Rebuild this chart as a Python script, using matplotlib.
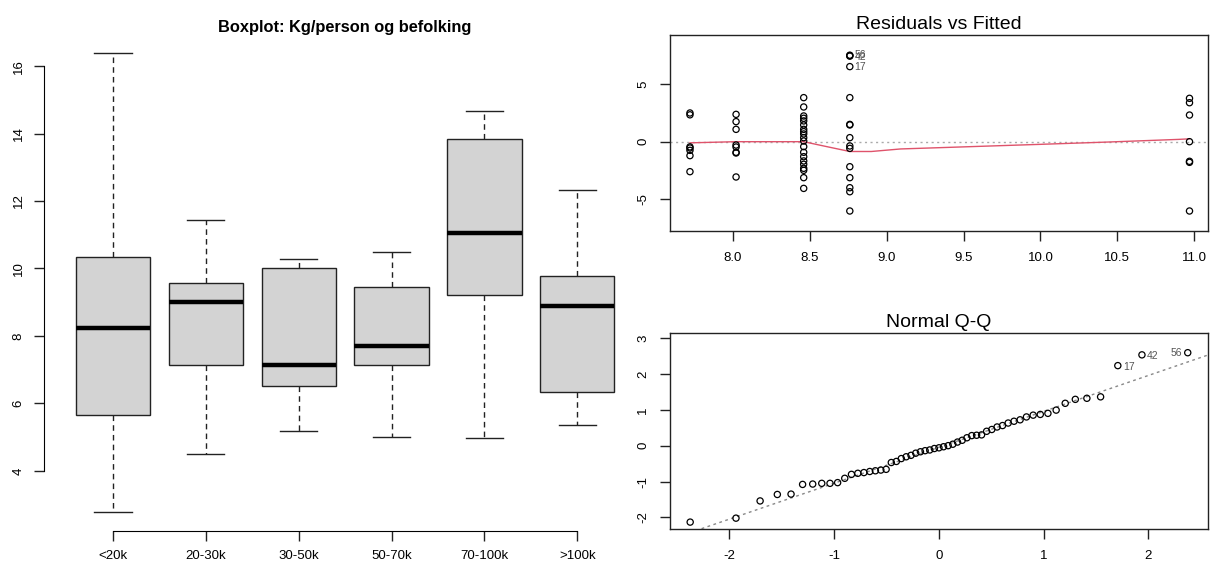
import matplotlib
matplotlib.use("Agg")
import matplotlib.pyplot as plt
import numpy as np
from statistics import NormalDist

plt.rcParams['font.family'] = ['Liberation Sans', 'DejaVu Sans']

# ---------------- data ----------------
groups = ["<20k", "20-30k", "30-50k", "50-70k", "70-100k", ">100k"]
whis_lo = [2.77, 4.51, 5.18, 4.99, 4.96, 5.37]
q1 = [5.66, 7.15, 6.52, 7.15, 9.20, 6.34]
medians = [8.24, 9.02, 7.15, 7.70, 11.06, 8.90]
q3 = [10.35, 9.56, 10.01, 9.45, 13.85, 9.79]
whis_hi = [16.38, 11.43, 10.28, 10.50, 14.66, 12.33]

fitted_levels = [7.72, 8.02, 8.46, 8.76, 10.97]
resid_g1 = [2.49, 2.33, -0.45, -0.55, -0.75, -1.21, -2.60]
resid_g2 = [2.37, 1.74, 1.07, -0.29, -0.46, -0.92, -0.98, -3.06]
resid_g3 = [3.82, 3.01, 2.23, 2.03, 1.80, 1.45, 1.07, 0.87, 0.67, 0.35,
            0.06, -0.43, -0.92, -1.30, -1.67, -1.96, -2.31, -2.48, -3.12, -4.05]
resid_g4 = [7.50, 7.46, 7.42, 6.51, 3.82, 1.50, 1.45, 0.35, -0.37, -0.58,
            -2.17, -3.12, -3.99, -4.34, -6.01]
resid_g5 = [3.76, 3.38, 2.31, 0.0, -1.70, -1.79, -6.01]

smooth_x = [7.72, 8.02, 8.46, 8.60, 8.76, 8.90, 9.09, 9.50, 10.00, 10.44, 10.90, 10.97]
smooth_y = [-0.10, 0.00, 0.00, -0.40, -0.85, -0.85, -0.63, -0.45, -0.23, -0.03, 0.20, 0.25]

std_resid_sorted = [-2.13, -2.02, -1.54, -1.36, -1.35, -1.08, -1.07, -1.05, -1.05, -1.03,
                    -0.91, -0.80, -0.77, -0.75, -0.72, -0.70, -0.68, -0.66, -0.47, -0.44,
                    -0.36, -0.31, -0.27, -0.21, -0.17, -0.14, -0.12, -0.08, -0.06, -0.03,
                    0.00, 0.04, 0.10, 0.15, 0.22, 0.28, 0.29, 0.30, 0.40, 0.45,
                    0.52, 0.56, 0.63, 0.68, 0.72, 0.80, 0.85, 0.87, 0.90, 0.99,
                    1.18, 1.29, 1.32, 1.36, 2.23, 2.53, 2.59]
qq_labels = {54: "17", 55: "42", 56: "56"}

# ---------------- figure ----------------
fig = plt.figure(figsize=(12.10, 5.63), dpi=100)
TICK_KW = dict(direction='out', length=7, width=1, color='#222222')

# ---- boxplot ----
ax = fig.add_axes([0.0366, 0.0577, 0.4973, 0.880])
stats = []
for i, g in enumerate(groups):
    stats.append(dict(label=g, whislo=whis_lo[i], q1=q1[i], med=medians[i],
                      q3=q3[i], whishi=whis_hi[i], fliers=[]))
pos = np.arange(1, len(groups) + 1)
ax.bxp(stats, positions=pos, widths=0.8, patch_artist=True, showfliers=False,
       boxprops=dict(facecolor='#D3D3D3', edgecolor='#222222', linewidth=1.0),
       medianprops=dict(color='black', linewidth=3.2, solid_capstyle='butt'),
       whiskerprops=dict(color='#222222', linewidth=1.0, linestyle=(0, (4, 3))),
       capprops=dict(color='#222222', linewidth=1.0), capwidths=0.4)
ax.set_xlim(0.26, 6.74)
ax.set_ylim(2.23, 16.92)
for s in ['top', 'right']:
    ax.spines[s].set_visible(False)
ax.spines['left'].set_bounds(4, 16)
ax.spines['bottom'].set_bounds(1, 6)
ax.set_yticks([4, 6, 8, 10, 12, 14, 16])
ax.set_yticklabels(['4', '6', '8', '10', '12', '14', '16'], rotation=90, va='center')
ax.set_xticks(pos)
ax.set_xticklabels(groups)
ax.tick_params(axis='both', labelsize=9.5, pad=7, **TICK_KW)
ax.set_title("Boxplot: Kg/person og befolking", fontsize=11.8, fontweight='bold', pad=2)

# ---- residuals vs fitted ----
ax2 = fig.add_axes([0.5537, 0.5902, 0.4446, 0.3476])
all_res = [resid_g1, resid_g2, resid_g3, resid_g4, resid_g5]
for fv, res in zip(fitted_levels, all_res):
    ax2.scatter([fv] * len(res), res, s=20, facecolors='none', edgecolors='black', linewidths=0.9, zorder=3)
ax2.axhline(0, color='#AAAAAA', linestyle=(0, (1.5, 2.5)), linewidth=1.0, zorder=1)
ax2.plot(smooth_x, smooth_y, color='#DF536B', linewidth=1.0, zorder=2)
ax2.text(fitted_levels[3] + 0.03, resid_g4[0], "56", fontsize=7.5, color='#555555', va='center', ha='left')
ax2.text(fitted_levels[3] + 0.03, resid_g4[2] - 0.1, "42", fontsize=7.5, color='#555555', va='center', ha='left')
ax2.text(fitted_levels[3] + 0.03, resid_g4[3], "17", fontsize=7.5, color='#555555', va='center', ha='left')
ax2.set_xlim(7.59, 11.09)
ax2.set_ylim(-7.72, 9.25)
ax2.set_xticks([8.0, 8.5, 9.0, 9.5, 10.0, 10.5, 11.0])
ax2.set_xticklabels(['8.0', '8.5', '9.0', '9.5', '10.0', '10.5', '11.0'])
ax2.set_yticks([-5, 0, 5])
ax2.set_yticklabels(['-5', '0', '5'], rotation=90, va='center')
ax2.tick_params(axis='both', labelsize=9.5, pad=8, **TICK_KW)
for s in ax2.spines.values():
    s.set_linewidth(1.0)
    s.set_color('#222222')
ax2.set_title("Residuals vs Fitted", fontsize=14, pad=4)

# ---- normal Q-Q ----
ax3 = fig.add_axes([0.5537, 0.0599, 0.4446, 0.3487])
n = len(std_resid_sorted)
nd = NormalDist()
theo = [nd.inv_cdf((i + 0.5) / n) for i in range(n)]
ax3.scatter(theo, std_resid_sorted, s=20, facecolors='none', edgecolors='black', linewidths=0.9, zorder=3)
yq = np.quantile(std_resid_sorted, [0.25, 0.75])
xq = [nd.inv_cdf(0.25), nd.inv_cdf(0.75)]
slope = (yq[1] - yq[0]) / (xq[1] - xq[0])
inter = yq[0] - slope * xq[0]
xl = np.array([-3, 3])
ax3.plot(xl, inter + slope * xl, color='#888888', linestyle=(0, (2, 2.5)), linewidth=1.0, zorder=2)
for idx, lab in qq_labels.items():
    if lab == "56":
        ax3.text(theo[idx] - 0.05, std_resid_sorted[idx], lab, fontsize=7.5, color='#555555', va='center', ha='right')
    else:
        ax3.text(theo[idx] + 0.05, std_resid_sorted[idx] - 0.03, lab, fontsize=7.5, color='#555555', va='center', ha='left')
ax3.set_xlim(-2.568, 2.568)
ax3.set_ylim(-2.33, 3.14)
ax3.set_xticks([-2, -1, 0, 1, 2])
ax3.set_xticklabels(['-2', '-1', '0', '1', '2'])
ax3.set_yticks([-2, -1, 0, 1, 2, 3])
ax3.set_yticklabels(['-2', '-1', '0', '1', '2', '3'], rotation=90, va='center')
ax3.tick_params(axis='both', labelsize=9.5, pad=8, **TICK_KW)
for s in ax3.spines.values():
    s.set_linewidth(1.0)
    s.set_color('#222222')
ax3.set_title("Normal Q-Q", fontsize=14, pad=4)

fig.savefig("out.png", dpi=100)
